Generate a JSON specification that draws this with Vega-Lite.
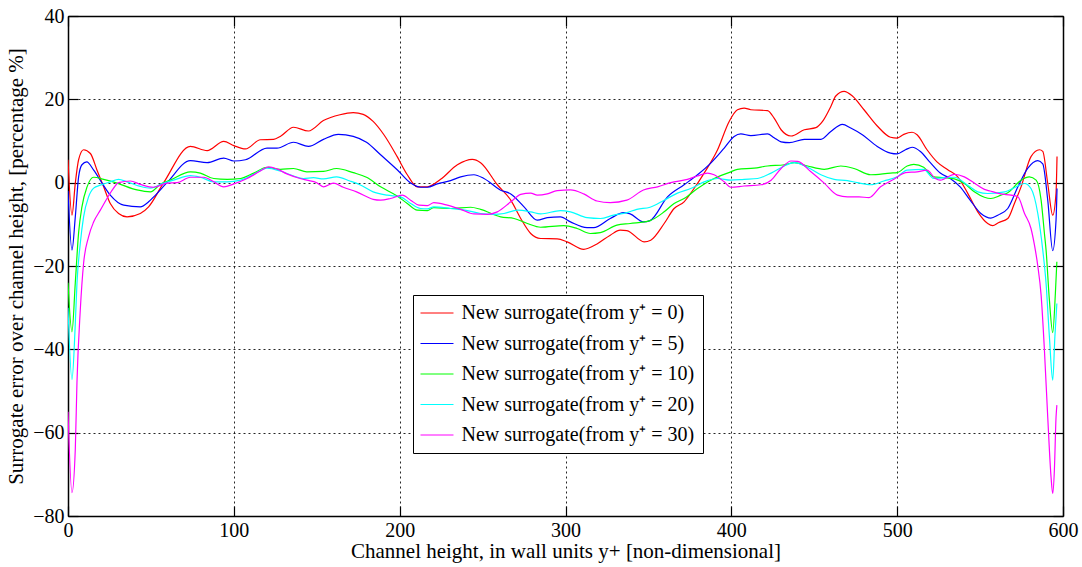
{
  "$schema": "https://vega.github.io/schema/vega-lite/v6.json",
  "width": 995,
  "height": 500,
  "autosize": {"type": "none"},
  "padding": {"left": 68, "top": 16, "right": 19, "bottom": 51},
  "background": "white",
  "datasets": {
    "curves": [
      {"g":0,"x":0,"y":5.5},{"g":0,"x":2.4,"y":-7.8},{"g":0,"x":4.4,"y":-0.1},{"g":0,"x":6.4,"y":5.5},{"g":0,"x":9.4,"y":7.9},{"g":0,"x":13.5,"y":7},{"g":0,"x":17.5,"y":3},{"g":0,"x":21.5,"y":-1},{"g":0,"x":25.5,"y":-5},{"g":0,"x":30.5,"y":-7.4},{"g":0,"x":35.6,"y":-8.2},{"g":0,"x":43.6,"y":-7.4},{"g":0,"x":48.6,"y":-5.8},{"g":0,"x":57.7,"y":0},{"g":0,"x":73.8,"y":8.7},{"g":0,"x":83.9,"y":7.7},{"g":0,"x":93.9,"y":9.9},{"g":0,"x":100,"y":8.9},{"g":0,"x":107,"y":8.1},{"g":0,"x":116,"y":10.3},{"g":0,"x":124,"y":10.4},{"g":0,"x":128,"y":11.1},{"g":0,"x":136,"y":13.3},{"g":0,"x":145,"y":12.4},{"g":0,"x":154,"y":14.9},{"g":0,"x":164,"y":16.3},{"g":0,"x":172,"y":16.8},{"g":0,"x":178,"y":16.4},{"g":0,"x":184,"y":14.7},{"g":0,"x":190.5,"y":11.5},{"g":0,"x":198.5,"y":6.25},{"g":0,"x":204.6,"y":1.9},{"g":0,"x":210.6,"y":-1},{"g":0,"x":216.7,"y":-1},{"g":0,"x":224.7,"y":0.8},{"g":0,"x":234.8,"y":4.3},{"g":0,"x":243.8,"y":5.6},{"g":0,"x":248.8,"y":4.8},{"g":0,"x":258.9,"y":-0.5},{"g":0,"x":267,"y":-4.2},{"g":0,"x":273,"y":-8.6},{"g":0,"x":279,"y":-12.2},{"g":0,"x":285,"y":-13.4},{"g":0,"x":295,"y":-13.5},{"g":0,"x":301,"y":-14.2},{"g":0,"x":311,"y":-16},{"g":0,"x":319,"y":-14.7},{"g":0,"x":327,"y":-12.6},{"g":0,"x":333,"y":-11.4},{"g":0,"x":337,"y":-11.5},{"g":0,"x":347.4,"y":-14.2},{"g":0,"x":351.4,"y":-13.8},{"g":0,"x":359.5,"y":-9.8},{"g":0,"x":365.5,"y":-6.2},{"g":0,"x":371.5,"y":-4.6},{"g":0,"x":377.5,"y":-1.4},{"g":0,"x":383.6,"y":2.3},{"g":0,"x":391.7,"y":7.9},{"g":0,"x":398.7,"y":14.7},{"g":0,"x":403.7,"y":17.5},{"g":0,"x":407.7,"y":17.9},{"g":0,"x":411.8,"y":17.5},{"g":0,"x":421.8,"y":17.3},{"g":0,"x":425.8,"y":15.5},{"g":0,"x":430,"y":12.7},{"g":0,"x":436,"y":11.2},{"g":0,"x":444,"y":12.7},{"g":0,"x":451,"y":13.2},{"g":0,"x":455,"y":14.7},{"g":0,"x":460,"y":18.3},{"g":0,"x":463,"y":20.8},{"g":0,"x":468,"y":21.9},{"g":0,"x":473,"y":20.8},{"g":0,"x":480,"y":17.5},{"g":0,"x":488,"y":13.6},{"g":0,"x":496,"y":10.9},{"g":0,"x":500,"y":10.7},{"g":0,"x":504,"y":11.6},{"g":0,"x":509,"y":12.1},{"g":0,"x":512,"y":11.5},{"g":0,"x":518,"y":7.9},{"g":0,"x":524,"y":5},{"g":0,"x":530.5,"y":3.1},{"g":0,"x":536.5,"y":1.4},{"g":0,"x":542.5,"y":-2.5},{"g":0,"x":548.6,"y":-7},{"g":0,"x":554.6,"y":-9.8},{"g":0,"x":557.6,"y":-10.3},{"g":0,"x":561,"y":-9.6},{"g":0,"x":566.7,"y":-8.6},{"g":0,"x":570.7,"y":-5},{"g":0,"x":574.7,"y":-1},{"g":0,"x":580.7,"y":6.25},{"g":0,"x":585.8,"y":7.9},{"g":0,"x":587.8,"y":7.5},{"g":0,"x":590.8,"y":-0.2},{"g":0,"x":593.8,"y":-7.8},{"g":0,"x":595.8,"y":-2.5},{"g":0,"x":596.4,"y":6.3},

      {"g":5,"x":0,"y":-2},{"g":5,"x":2.4,"y":-16.2},{"g":5,"x":4.4,"y":-8.2},{"g":5,"x":6.4,"y":1.4},{"g":5,"x":8.4,"y":4.3},{"g":5,"x":11.3,"y":5},{"g":5,"x":15.5,"y":3},{"g":5,"x":20.5,"y":-0.1},{"g":5,"x":25.5,"y":-3},{"g":5,"x":33.6,"y":-5.4},{"g":5,"x":43.6,"y":-5.8},{"g":5,"x":48.6,"y":-4.6},{"g":5,"x":51.7,"y":-3.4},{"g":5,"x":59.7,"y":0},{"g":5,"x":73.8,"y":5.3},{"g":5,"x":83.9,"y":4.8},{"g":5,"x":93.9,"y":5.9},{"g":5,"x":100,"y":5.2},{"g":5,"x":107,"y":5.5},{"g":5,"x":120,"y":8.3},{"g":5,"x":126,"y":8.3},{"g":5,"x":136,"y":9.7},{"g":5,"x":145,"y":8.7},{"g":5,"x":154,"y":10.4},{"g":5,"x":163,"y":11.6},{"g":5,"x":172,"y":11.1},{"g":5,"x":180,"y":9.7},{"g":5,"x":188.5,"y":6.7},{"g":5,"x":198.5,"y":3.1},{"g":5,"x":206.6,"y":-0.1},{"g":5,"x":212.6,"y":-1.1},{"g":5,"x":216.7,"y":-1.1},{"g":5,"x":222.7,"y":-0.3},{"g":5,"x":230.7,"y":0.5},{"g":5,"x":236.8,"y":1.4},{"g":5,"x":244.8,"y":1.9},{"g":5,"x":250.8,"y":1},{"g":5,"x":260.9,"y":-1.8},{"g":5,"x":267,"y":-2.7},{"g":5,"x":275,"y":-5.8},{"g":5,"x":283,"y":-9},{"g":5,"x":289,"y":-8.4},{"g":5,"x":297,"y":-8.2},{"g":5,"x":303,"y":-9.4},{"g":5,"x":313,"y":-10.8},{"g":5,"x":317,"y":-10.8},{"g":5,"x":327,"y":-8.6},{"g":5,"x":335,"y":-7.2},{"g":5,"x":339,"y":-7.5},{"g":5,"x":347,"y":-9.4},{"g":5,"x":351,"y":-9.1},{"g":5,"x":361.5,"y":-3.4},{"g":5,"x":371.5,"y":-0.5},{"g":5,"x":379.6,"y":1.9},{"g":5,"x":387.6,"y":4.7},{"g":5,"x":395.7,"y":8.3},{"g":5,"x":401.7,"y":11.1},{"g":5,"x":405.7,"y":11.7},{"g":5,"x":411.8,"y":11.3},{"g":5,"x":421.8,"y":11.7},{"g":5,"x":425.8,"y":10.8},{"g":5,"x":430,"y":9.8},{"g":5,"x":435,"y":9.6},{"g":5,"x":444,"y":10.4},{"g":5,"x":454,"y":10.4},{"g":5,"x":460,"y":12.3},{"g":5,"x":467,"y":14},{"g":5,"x":472,"y":13.1},{"g":5,"x":479,"y":11.5},{"g":5,"x":488,"y":8.7},{"g":5,"x":496,"y":7.1},{"g":5,"x":500,"y":6.9},{"g":5,"x":505,"y":7.9},{"g":5,"x":509,"y":8.5},{"g":5,"x":514,"y":7.5},{"g":5,"x":520,"y":4.8},{"g":5,"x":526,"y":2.3},{"g":5,"x":532,"y":1},{"g":5,"x":538,"y":-1},{"g":5,"x":544,"y":-4.2},{"g":5,"x":550.5,"y":-7.4},{"g":5,"x":556.5,"y":-8.5},{"g":5,"x":560.7,"y":-7.8},{"g":5,"x":566.7,"y":-6.2},{"g":5,"x":572.8,"y":-1},{"g":5,"x":578.8,"y":3.5},{"g":5,"x":584.8,"y":5.3},{"g":5,"x":587.8,"y":4.5},{"g":5,"x":590.8,"y":-4.2},{"g":5,"x":593.8,"y":-16.3},{"g":5,"x":595.8,"y":-9},{"g":5,"x":596.4,"y":-1.4},

      {"g":10,"x":0,"y":-24},{"g":10,"x":2.4,"y":-35.8},{"g":10,"x":4.4,"y":-24},{"g":10,"x":6.4,"y":-12},{"g":10,"x":8.4,"y":-5.8},{"g":10,"x":11.5,"y":-1},{"g":10,"x":15.5,"y":1.3},{"g":10,"x":21.5,"y":0.8},{"g":10,"x":29.6,"y":-0.1},{"g":10,"x":41.6,"y":-1.75},{"g":10,"x":49.7,"y":-2.2},{"g":10,"x":55.7,"y":-0.4},{"g":10,"x":61.7,"y":0.6},{"g":10,"x":73.8,"y":2.6},{"g":10,"x":79.8,"y":2.3},{"g":10,"x":87.9,"y":1},{"g":10,"x":96,"y":0.8},{"g":10,"x":104,"y":1},{"g":10,"x":112,"y":2.3},{"g":10,"x":120,"y":3.7},{"g":10,"x":128,"y":3.2},{"g":10,"x":136,"y":3.4},{"g":10,"x":144,"y":2.6},{"g":10,"x":154,"y":2.7},{"g":10,"x":162,"y":3.4},{"g":10,"x":172,"y":2.4},{"g":10,"x":180,"y":1.3},{"g":10,"x":188.5,"y":-1},{"g":10,"x":198.5,"y":-3.2},{"g":10,"x":204.6,"y":-5},{"g":10,"x":210.6,"y":-6.6},{"g":10,"x":216.7,"y":-6.7},{"g":10,"x":220.6,"y":-6},{"g":10,"x":230.7,"y":-6.2},{"g":10,"x":242.8,"y":-5.9},{"g":10,"x":248.8,"y":-6.4},{"g":10,"x":260.9,"y":-8.2},{"g":10,"x":269,"y":-8.6},{"g":10,"x":277,"y":-9.8},{"g":10,"x":285,"y":-10.7},{"g":10,"x":299,"y":-10.3},{"g":10,"x":307,"y":-11},{"g":10,"x":315,"y":-12.2},{"g":10,"x":321,"y":-12},{"g":10,"x":331,"y":-10.2},{"g":10,"x":339,"y":-9.8},{"g":10,"x":351,"y":-9.1},{"g":10,"x":359.5,"y":-7},{"g":10,"x":365.5,"y":-5},{"g":10,"x":371.5,"y":-3.8},{"g":10,"x":379.6,"y":-1.4},{"g":10,"x":387.6,"y":0.6},{"g":10,"x":399.7,"y":2.6},{"g":10,"x":403.7,"y":3.2},{"g":10,"x":413.8,"y":3.5},{"g":10,"x":421.8,"y":4},{"g":10,"x":432,"y":4.3},{"g":10,"x":438,"y":4.8},{"g":10,"x":446,"y":4},{"g":10,"x":456,"y":3.2},{"g":10,"x":466,"y":4},{"g":10,"x":474,"y":3.4},{"g":10,"x":484,"y":1.9},{"g":10,"x":496,"y":2.3},{"g":10,"x":500,"y":2.4},{"g":10,"x":506,"y":4},{"g":10,"x":510,"y":4.4},{"g":10,"x":516,"y":3.7},{"g":10,"x":522,"y":1.4},{"g":10,"x":528,"y":1.2},{"g":10,"x":534.5,"y":0.9},{"g":10,"x":540.5,"y":-0.2},{"g":10,"x":546.5,"y":-2.2},{"g":10,"x":552.6,"y":-3.5},{"g":10,"x":556.5,"y":-3.8},{"g":10,"x":562.6,"y":-3},{"g":10,"x":566.7,"y":-2.4},{"g":10,"x":574.7,"y":0.6},{"g":10,"x":579.7,"y":1.4},{"g":10,"x":583.8,"y":0.6},{"g":10,"x":586.8,"y":-4.2},{"g":10,"x":588.8,"y":-12.2},{"g":10,"x":589.8,"y":-16.2},{"g":10,"x":591.8,"y":-28.2},{"g":10,"x":593.8,"y":-36},{"g":10,"x":595.4,"y":-26.6},{"g":10,"x":596.3,"y":-19},

      {"g":20,"x":0,"y":-30},{"g":20,"x":2.4,"y":-47.3},{"g":20,"x":4.4,"y":-33.8},{"g":20,"x":5.4,"y":-24.2},{"g":20,"x":7.4,"y":-14.6},{"g":20,"x":9.4,"y":-8.2},{"g":20,"x":12.4,"y":-3.4},{"g":20,"x":15.5,"y":-1.3},{"g":20,"x":19.5,"y":-0.6},{"g":20,"x":25.5,"y":0.2},{"g":20,"x":30.5,"y":0.8},{"g":20,"x":35.6,"y":0.2},{"g":20,"x":43.6,"y":-0.9},{"g":20,"x":49.7,"y":-1.3},{"g":20,"x":57.7,"y":-0.1},{"g":20,"x":63.7,"y":0.6},{"g":20,"x":73.8,"y":1.7},{"g":20,"x":79.8,"y":1.3},{"g":20,"x":87.9,"y":0.2},{"g":20,"x":96,"y":0.2},{"g":20,"x":104,"y":0.6},{"g":20,"x":112,"y":2},{"g":20,"x":120,"y":3.5},{"g":20,"x":128,"y":2.8},{"g":20,"x":134,"y":1.9},{"g":20,"x":142,"y":1},{"g":20,"x":148,"y":1.2},{"g":20,"x":154,"y":0.9},{"g":20,"x":162,"y":1.4},{"g":20,"x":170,"y":0.4},{"g":20,"x":176,"y":-0.5},{"g":20,"x":184,"y":-2.2},{"g":20,"x":192.5,"y":-3},{"g":20,"x":200.5,"y":-3.4},{"g":20,"x":206.6,"y":-5},{"g":20,"x":212.6,"y":-6.2},{"g":20,"x":216.7,"y":-6.3},{"g":20,"x":220.6,"y":-5.8},{"g":20,"x":230.7,"y":-6.2},{"g":20,"x":240.8,"y":-6.7},{"g":20,"x":248.8,"y":-7.4},{"g":20,"x":256.8,"y":-7.6},{"g":20,"x":262.9,"y":-7.4},{"g":20,"x":271,"y":-6.6},{"g":20,"x":279,"y":-7},{"g":20,"x":285,"y":-7.5},{"g":20,"x":297,"y":-6.7},{"g":20,"x":303,"y":-7},{"g":20,"x":313,"y":-8.4},{"g":20,"x":321,"y":-8.6},{"g":20,"x":329,"y":-7.8},{"g":20,"x":337,"y":-7.2},{"g":20,"x":343,"y":-6.4},{"g":20,"x":351,"y":-5.9},{"g":20,"x":359.5,"y":-4.2},{"g":20,"x":367.5,"y":-2.5},{"g":20,"x":375.5,"y":-1.4},{"g":20,"x":385.6,"y":0.5},{"g":20,"x":391.7,"y":1},{"g":20,"x":399.7,"y":0.6},{"g":20,"x":407.7,"y":0.8},{"g":20,"x":415.8,"y":1},{"g":20,"x":424,"y":2.3},{"g":20,"x":432,"y":4},{"g":20,"x":438,"y":4.8},{"g":20,"x":446,"y":3.7},{"g":20,"x":454,"y":1.9},{"g":20,"x":462,"y":0.8},{"g":20,"x":470,"y":0.5},{"g":20,"x":476,"y":0},{"g":20,"x":484,"y":-0.5},{"g":20,"x":492,"y":0.4},{"g":20,"x":500,"y":1.4},{"g":20,"x":506,"y":3},{"g":20,"x":516,"y":3.2},{"g":20,"x":522,"y":1},{"g":20,"x":528,"y":1.2},{"g":20,"x":534.5,"y":1.3},{"g":20,"x":542.5,"y":-0.6},{"g":20,"x":548.6,"y":-2.2},{"g":20,"x":554.6,"y":-2.6},{"g":20,"x":564.7,"y":-2.2},{"g":20,"x":572.8,"y":-0.8},{"g":20,"x":576.8,"y":-0.2},{"g":20,"x":580.7,"y":-1.4},{"g":20,"x":584.8,"y":-7.4},{"g":20,"x":587.8,"y":-16.2},{"g":20,"x":589.8,"y":-24.2},{"g":20,"x":591.8,"y":-37},{"g":20,"x":593.8,"y":-47.4},{"g":20,"x":595.1,"y":-37},{"g":20,"x":596.3,"y":-29},

      {"g":30,"x":0,"y":-55},{"g":30,"x":2.4,"y":-74.4},{"g":30,"x":4.4,"y":-64},{"g":30,"x":5.4,"y":-48},{"g":30,"x":7.4,"y":-30.6},{"g":30,"x":9.4,"y":-19.4},{"g":30,"x":12.4,"y":-13},{"g":30,"x":15.5,"y":-9.4},{"g":30,"x":19.5,"y":-6.6},{"g":30,"x":23.5,"y":-3.8},{"g":30,"x":27.5,"y":-1.3},{"g":30,"x":30.5,"y":0},{"g":30,"x":37.6,"y":0.4},{"g":30,"x":43.6,"y":-0.4},{"g":30,"x":51.7,"y":-1.1},{"g":30,"x":59.7,"y":-0.1},{"g":30,"x":65.8,"y":0},{"g":30,"x":73.8,"y":1.3},{"g":30,"x":81.8,"y":1.3},{"g":30,"x":87.9,"y":0.2},{"g":30,"x":93.9,"y":-1},{"g":30,"x":100,"y":-0.3},{"g":30,"x":108,"y":1},{"g":30,"x":116,"y":2.8},{"g":30,"x":121,"y":3.8},{"g":30,"x":126,"y":3.3},{"g":30,"x":132,"y":2.1},{"g":30,"x":140,"y":1},{"g":30,"x":144,"y":0.6},{"g":30,"x":150,"y":0},{"g":30,"x":154,"y":-1},{"g":30,"x":160,"y":-0.1},{"g":30,"x":166,"y":-1.1},{"g":30,"x":174,"y":-2.2},{"g":30,"x":184,"y":-4},{"g":30,"x":188.5,"y":-4.2},{"g":30,"x":194.5,"y":-3.8},{"g":30,"x":201.6,"y":-3},{"g":30,"x":206.6,"y":-4.2},{"g":30,"x":211.6,"y":-5.4},{"g":30,"x":216.7,"y":-5.5},{"g":30,"x":220.6,"y":-4.8},{"g":30,"x":228.7,"y":-5.4},{"g":30,"x":236.8,"y":-6.4},{"g":30,"x":244.8,"y":-7.5},{"g":30,"x":252.9,"y":-7.6},{"g":30,"x":258.9,"y":-7},{"g":30,"x":267,"y":-4.6},{"g":30,"x":273,"y":-2.8},{"g":30,"x":279,"y":-2.5},{"g":30,"x":283,"y":-3},{"g":30,"x":289,"y":-2.7},{"g":30,"x":295,"y":-1.9},{"g":30,"x":303,"y":-1.75},{"g":30,"x":311,"y":-2.7},{"g":30,"x":319,"y":-4.4},{"g":30,"x":327,"y":-4.8},{"g":30,"x":337,"y":-4.2},{"g":30,"x":347,"y":-1.75},{"g":30,"x":355.5,"y":-1},{"g":30,"x":363.5,"y":0},{"g":30,"x":373.5,"y":0.8},{"g":30,"x":379.6,"y":1.6},{"g":30,"x":385.6,"y":2.3},{"g":30,"x":389.6,"y":1.9},{"g":30,"x":395.7,"y":0.2},{"g":30,"x":399.7,"y":-1.1},{"g":30,"x":407.7,"y":-0.8},{"g":30,"x":417.8,"y":-0.5},{"g":30,"x":424,"y":0.6},{"g":30,"x":430,"y":3.4},{"g":30,"x":436,"y":5.2},{"g":30,"x":440,"y":5.1},{"g":30,"x":448,"y":2.6},{"g":30,"x":456,"y":-0.1},{"g":30,"x":464,"y":-3},{"g":30,"x":470,"y":-3.4},{"g":30,"x":477,"y":-3.4},{"g":30,"x":483,"y":-3.6},{"g":30,"x":490,"y":-1},{"g":30,"x":498,"y":0.8},{"g":30,"x":505,"y":2.4},{"g":30,"x":512,"y":2.6},{"g":30,"x":518,"y":3},{"g":30,"x":523,"y":1},{"g":30,"x":526,"y":0.6},{"g":30,"x":534.5,"y":2},{"g":30,"x":540.5,"y":1.4},{"g":30,"x":546.5,"y":-0.1},{"g":30,"x":552.6,"y":-1.6},{"g":30,"x":556,"y":-2},{"g":30,"x":562.6,"y":-2.7},{"g":30,"x":568.7,"y":-3},{"g":30,"x":572.8,"y":-3.4},{"g":30,"x":576.8,"y":-7.4},{"g":30,"x":580.7,"y":-11},{"g":30,"x":582.8,"y":-15},{"g":30,"x":584.8,"y":-20},{"g":30,"x":586.8,"y":-27},{"g":30,"x":588.8,"y":-40.2},{"g":30,"x":590.8,"y":-56.3},{"g":30,"x":592.8,"y":-70.7},{"g":30,"x":593.8,"y":-74.6},{"g":30,"x":594.8,"y":-69},{"g":30,"x":595.8,"y":-56.3},{"g":30,"x":596.3,"y":-53.4}
    ]
  },
  "data": {"name": "curves"},
  "layer": [
    {
      "mark": {"type": "line", "strokeWidth": 1.2, "interpolate": "monotone", "clip": true},
      "encoding": {
        "x": {"field": "x", "type": "quantitative", "scale": {"domain": [0, 600], "nice": false, "zero": false},
          "axis": {"orient": "bottom", "values": [0, 100, 200, 300, 400, 500, 600], "grid": true, "title": "Channel height, in wall units y+ [non-dimensional]", "labelPadding": 14, "titlePadding": 0, "labelFlush": false, "labelOverlap": false}},
        "y": {"field": "y", "type": "quantitative", "scale": {"domain": [-80, 40], "nice": false, "zero": false},
          "axis": {"orient": "left", "values": [-80, -60, -40, -20, 0, 20, 40], "grid": true, "title": "Surrogate error over channel height, [percentage %]", "labelPadding": 14, "titlePadding": 6, "labelOverlap": false}},
        "color": {"field": "g", "type": "nominal",
          "scale": {"domain": [0, 5, 10, 20, 30], "range": ["#ff0000", "#0000ff", "#00ff00", "#00ffff", "#ff00ff"]},
          "legend": {"orient": "none", "legendX": 345, "legendY": 279, "title": null,
            "labelExpr": "'New surrogate(from y⁺ = ' + datum.label + ')'",
            "symbolType": "M-1.94,0H1.94", "symbolSize": 289, "symbolStrokeWidth": 1, "symbolOffset": 6,
            "labelOffset": 14.5, "padding": 8, "rowPadding": 10.5,
            "strokeColor": "black", "fillColor": "white",
            "labelFont": "Liberation Serif", "labelFontSize": 20, "labelColor": "black", "labelLimit": 400}},
        "order": {"field": "x", "type": "quantitative"}
      }
    },
    {
      "mark": {"type": "point", "opacity": 0},
      "encoding": {
        "x": {"field": "x", "type": "quantitative", "axis": {"orient": "top", "values": [0, 100, 200, 300, 400, 500, 600], "labels": false, "grid": false, "title": null}},
        "y": {"field": "y", "type": "quantitative", "axis": {"orient": "right", "values": [-80, -60, -40, -20, 0, 20, 40], "labels": false, "grid": false, "title": null}}
      }
    }
  ],
  "resolve": {"axis": {"x": "independent", "y": "independent"}},
  "config": {
    "font": "Liberation Serif",
    "view": {"stroke": null},
    "axis": {
      "labelFont": "Liberation Serif", "labelFontSize": 20, "labelColor": "black",
      "titleFont": "Liberation Serif", "titleFontSize": 21, "titleFontWeight": "normal", "titleColor": "black",
      "domainColor": "black", "domainWidth": 1.5,
      "tickColor": "black", "tickSize": -10, "tickWidth": 1.2,
      "gridColor": "black", "gridDash": [2, 3], "gridWidth": 1, "gridOpacity": 0.85
    }
  }
}
